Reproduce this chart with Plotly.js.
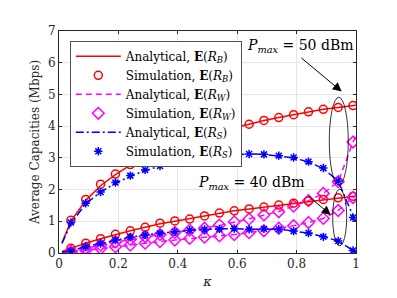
<!DOCTYPE html>
<html>
<head>
<meta charset="utf-8">
<script src="https://cdn.plot.ly/plotly-3.0.1.min.js"></script>
<style>html,body{margin:0;padding:0;background:#fff;}#chart{width:397px;height:298px;}</style>
</head>
<body>
<div id="chart"></div>
<script>
// kappa grids
const kappaSim = [0.04,0.09,0.14,0.19,0.24,0.29,0.34,0.39,0.44,0.49,0.54,0.59,0.64,0.69,0.74,0.79,0.84,0.89,0.94,0.99];
const kappaAna = [0.01,0.04,0.09,0.14,0.19,0.24,0.29,0.34,0.39,0.44,0.49,0.54,0.59,0.64,0.69,0.74,0.79,0.84,0.89,0.94,0.99,1.0];

// Pmax = 50 dBm
const anaRB50 = [0.32,1.00,1.66,2.12,2.47,2.77,3.02,3.21,3.40,3.55,3.69,3.82,3.95,4.06,4.18,4.27,4.36,4.45,4.53,4.59,4.65,4.66];
const simRB50 = [1.03,1.69,2.17,2.49,2.79,3.04,3.21,3.40,3.55,3.69,3.82,3.95,4.06,4.18,4.27,4.36,4.45,4.53,4.59,4.65];
const anaRW50 = [0.01,0.05,0.15,0.25,0.34,0.42,0.51,0.58,0.65,0.72,0.78,0.87,0.97,1.07,1.19,1.31,1.47,1.65,1.88,2.25,3.50,3.70];
const simRW50 = [0.05,0.15,0.25,0.35,0.43,0.52,0.58,0.65,0.72,0.78,0.88,0.98,1.07,1.20,1.30,1.48,1.65,1.88,2.25,3.50];
const anaRS50 = [0.30,0.93,1.55,1.92,2.20,2.42,2.60,2.74,2.85,2.95,3.03,3.08,3.11,3.12,3.11,3.06,3.00,2.87,2.66,2.27,1.12,0.95];
const simRS50 = [0.96,1.57,1.92,2.22,2.44,2.62,2.74,2.86,2.95,3.03,3.08,3.11,3.12,3.11,3.07,3.01,2.88,2.68,2.27,1.12];

// Pmax = 40 dBm
const anaRB40 = [0.05,0.15,0.31,0.45,0.58,0.70,0.81,0.92,1.00,1.08,1.17,1.26,1.33,1.39,1.45,1.51,1.57,1.63,1.69,1.74,1.79,1.80];
const simRB40 = [0.15,0.31,0.45,0.59,0.70,0.81,0.94,1.01,1.07,1.17,1.26,1.33,1.39,1.45,1.51,1.57,1.64,1.69,1.74,1.79];
const anaRW40 = [0.01,0.02,0.08,0.14,0.20,0.25,0.31,0.36,0.41,0.46,0.50,0.54,0.58,0.64,0.70,0.78,0.86,0.96,1.09,1.34,1.75,1.80];
const simRW40 = [0.02,0.08,0.14,0.20,0.25,0.31,0.36,0.41,0.46,0.50,0.54,0.58,0.64,0.70,0.78,0.86,0.96,1.09,1.34,1.75];
const anaRS40 = [0.03,0.06,0.20,0.30,0.41,0.50,0.57,0.62,0.67,0.72,0.74,0.76,0.77,0.75,0.76,0.75,0.69,0.63,0.51,0.38,0.08,0.05];
const simRS40 = [0.06,0.20,0.30,0.41,0.50,0.57,0.62,0.67,0.72,0.74,0.76,0.77,0.75,0.76,0.75,0.69,0.63,0.51,0.38,0.08];

const names = [
  'Analytical, <b>E</b>(<i>R</i><sub><i>B</i></sub>)',
  'Simulation, <b>E</b>(<i>R</i><sub><i>B</i></sub>)',
  'Analytical, <b>E</b>(<i>R</i><sub><i>W</i></sub>)',
  'Simulation, <b>E</b>(<i>R</i><sub><i>W</i></sub>)',
  'Analytical, <b>E</b>(<i>R</i><sub><i>S</i></sub>)',
  'Simulation, <b>E</b>(<i>R</i><sub><i>S</i></sub>)'
];
const RED='#ff0000', MAG='#ff00ff', BLUE='#0000ff';

function ana(y, color, dash, name, show){
  return {x:kappaAna, y:y, type:'scatter', mode:'lines', name:name, showlegend:show,
    line:{color:color, width:1.5, dash:dash}};
}
function sim(y, color, sym, size, name, show){
  return {x:kappaSim, y:y, type:'scatter', mode:'markers', name:name, showlegend:show,
    marker:{symbol:sym, size:size, color:color, line:{color:color, width:1.5}}};
}
const DASHDOT='8px,3px,2px,3px';
const DASH='6px,4px';
const traces = [
  ana(anaRB50, RED, 'solid', names[0], true),
  sim(simRB50, RED, 'circle-open', 8, names[1], true),
  ana(anaRW50, MAG, DASH, names[2], true),
  sim(simRW50, MAG, 'diamond-open', 9, names[3], true),
  ana(anaRS50, BLUE, DASHDOT, names[4], true),
  sim(simRS50, BLUE, 'asterisk-open', 7, names[5], true),
  ana(anaRB40, RED, 'solid', names[0], false),
  sim(simRB40, RED, 'circle-open', 8, names[1], false),
  ana(anaRW40, MAG, DASH, names[2], false),
  sim(simRW40, MAG, 'diamond-open', 9, names[3], false),
  ana(anaRS40, BLUE, DASHDOT, names[4], false),
  sim(simRS40, BLUE, 'asterisk-open', 7, names[5], false)
];

const FONT = 'DejaVu Serif, serif';
const layout = {
  width:397, height:298,
  margin:{l:59, r:41, t:31, b:45},
  paper_bgcolor:'#fff', plot_bgcolor:'#fff',
  font:{family:FONT, size:12, color:'#262626'},
  showlegend:true,
  legend:{x:0.037, y:0.955, xanchor:'left', yanchor:'top', bgcolor:'#fff', bordercolor:'#262626', borderwidth:0.8,
    font:{family:FONT, size:12, color:'#000'}, tracegroupgap:0, itemwidth:45},
  xaxis:{range:[0,1], tickvals:[0,0.2,0.4,0.6,0.8,1], ticktext:['0','0.2','0.4','0.6','0.8','1'],
    showgrid:true, gridcolor:'#e6e6e6', gridwidth:1, zeroline:false,
    showline:true, linecolor:'#262626', linewidth:1, mirror:'ticks', ticks:'inside', ticklen:3, tickcolor:'#262626',
    tickfont:{family:FONT, size:12}, title:{text:'<i>κ</i>', font:{family:FONT, size:13}, standoff:6}},
  yaxis:{range:[0,7], tickvals:[0,1,2,3,4,5,6,7],
    showgrid:true, gridcolor:'#e6e6e6', gridwidth:1, zeroline:false,
    showline:true, linecolor:'#262626', linewidth:1, mirror:'ticks', ticks:'inside', ticklen:3, tickcolor:'#262626',
    tickfont:{family:FONT, size:12}, title:{text:'Average Capacities (Mbps)', font:{family:FONT, size:12}, standoff:5}},
  shapes:[
    {type:'circle', xref:'x', yref:'y', x0:0.910, x1:0.974, y0:2.14, y1:4.91, line:{color:'#000', width:0.8}},
    {type:'circle', xref:'x', yref:'y', x0:0.9215, x1:0.9687, y0:0.23, y1:2.01, line:{color:'#000', width:0.8}}
  ],
  annotations:[
    {x:0.813, y:6.53, xref:'x', yref:'y', text:'<i>P</i><sub><i>max</i></sub> = 50 dBm', showarrow:false,
      font:{family:FONT, size:14, color:'#000'}},
    {x:0.648, y:2.21, xref:'x', yref:'y', text:'<i>P</i><sub><i>max</i></sub> = 40 dBm', showarrow:false,
      font:{family:FONT, size:14, color:'#000'}},
    {x:0.952, y:5.09, ax:0.811, ay:6.19, xref:'x', yref:'y', axref:'x', ayref:'y', text:'', showarrow:true,
      arrowhead:2, arrowsize:1.8, arrowwidth:1, arrowcolor:'#000'},
    {x:0.915, y:1.20, ax:0.835, ay:1.83, xref:'x', yref:'y', axref:'x', ayref:'y', text:'', showarrow:true,
      arrowhead:2, arrowsize:1.8, arrowwidth:1, arrowcolor:'#000'}
  ]
};
Plotly.newPlot('chart', traces, layout, {displayModeBar:false, staticPlot:true});
</script>
</body>
</html>
